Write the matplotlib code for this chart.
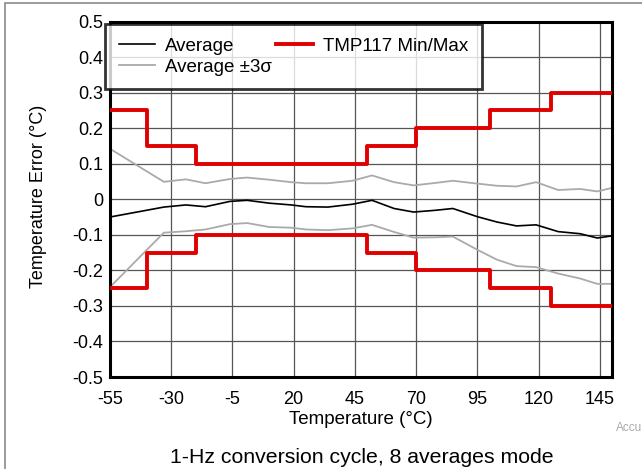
import matplotlib
matplotlib.use("Agg")
import matplotlib.pyplot as plt
from matplotlib.patches import Rectangle

plt.rcParams['font.family'] = ['Liberation Sans', 'DejaVu Sans']

# ---- data ----
temps = [-55, -33, -24, -16, -6, 1, 10, 19, 25, 34, 44, 52, 61, 69, 78, 85,
         95, 103, 111, 119, 128, 137, 144, 150]
avg = [-0.050, -0.022, -0.016, -0.021, -0.006, -0.003, -0.011, -0.016, -0.021,
       -0.022, -0.014, -0.003, -0.026, -0.036, -0.031, -0.026, -0.049, -0.064,
       -0.075, -0.072, -0.091, -0.097, -0.109, -0.103]
avg_plus3s = [0.142, 0.049, 0.056, 0.045, 0.057, 0.061, 0.055, 0.048, 0.045,
              0.045, 0.052, 0.067, 0.048, 0.039, 0.046, 0.052, 0.044, 0.038,
              0.036, 0.048, 0.026, 0.029, 0.022, 0.032]
avg_minus3s = [-0.247, -0.094, -0.090, -0.085, -0.070, -0.067, -0.078, -0.080,
               -0.085, -0.087, -0.082, -0.072, -0.092, -0.108, -0.107, -0.105,
               -0.142, -0.170, -0.188, -0.191, -0.209, -0.223, -0.238, -0.238]

limit_temps = [-55, -40, -20, 50, 70, 100, 125, 150]
limit_max = [0.25, 0.15, 0.10, 0.15, 0.20, 0.25, 0.30, 0.30]
limit_min = [-0.25, -0.15, -0.10, -0.15, -0.20, -0.25, -0.30, -0.30]

xticks = [-55, -30, -5, 20, 45, 70, 95, 120, 145]
yticks = [0.5, 0.4, 0.3, 0.2, 0.1, 0.0, -0.1, -0.2, -0.3, -0.4, -0.5]
ytick_labels = ['0.5', '0.4', '0.3', '0.2', '0.1', '0', '-0.1', '-0.2', '-0.3', '-0.4', '-0.5']

# ---- figure ----
W, H = 642, 469
fig = plt.figure(figsize=(W / 100, H / 100), dpi=100)

# outer gray frame (right/bottom clipped)
fig.patches.append(Rectangle((5 / W, -0.1), 1.2, 1 - 3 / H + 0.1,
                             transform=fig.transFigure, fill=False,
                             edgecolor='#8a8a8a', linewidth=1.2))

left, right, top, bottom = 110, 612, 21.5, 377
ax = fig.add_axes([left / W, 1 - bottom / H, (right - left) / W, (bottom - top) / H])

ax.set_xlim(-55, 150)
ax.set_ylim(-0.5, 0.5)
ax.set_xticks(xticks)
ax.set_xticklabels([str(t) for t in xticks])
ax.set_yticks(yticks)
ax.set_yticklabels(ytick_labels)
ax.tick_params(length=0, labelsize=13, colors='black')
ax.tick_params(axis='y', pad=5)
ax.tick_params(axis='x', pad=10)
ax.grid(True, color='#555555', linewidth=0.9)
ax.set_axisbelow(True)
for s in ax.spines.values():
    s.set_linewidth(2.2)
    s.set_color('black')

red = '#E00000'
gray = '#AAAAAA'
ax.plot(temps, avg, color='black', lw=1.2, label='Average', zorder=3)
ax.plot(temps, avg_plus3s, color=gray, lw=1.3, label='Average \u00b13\u03c3', zorder=2)
ax.plot(temps, avg_minus3s, color=gray, lw=1.3, zorder=2)
ax.plot(limit_temps, limit_max, color=red, lw=2.8, drawstyle='steps-post',
        label='TMP117 Min/Max', zorder=4)
ax.plot(limit_temps, limit_min, color=red, lw=2.8, drawstyle='steps-post', zorder=4)

leg = ax.legend(ncol=2, loc='upper left', bbox_to_anchor=(105 / W, 1 - 24 / H),
                bbox_transform=fig.transFigure, fontsize=13.5, frameon=True,
                fancybox=False, borderaxespad=0, handlelength=1.95,
                handletextpad=0.55, columnspacing=0.2, labelspacing=0.2,
                borderpad=0.72)
leg.get_frame().set_edgecolor('black')
leg.get_frame().set_linewidth(2.0)
leg.set_zorder(10)

ax.set_xlabel('Temperature (\u00b0C)', fontsize=13.5, labelpad=2)
ax.set_ylabel('Temperature Error (\u00b0C)', fontsize=13)
ax.yaxis.set_label_coords((47 - left) / (right - left), 0.508)

fig.text(362 / W, 1 - 457 / H, '1-Hz conversion cycle, 8 averages mode',
         ha='center', va='center', fontsize=15.3)
fig.text(1.0, 1 - 428 / H, 'Accu', ha='right', va='center', fontsize=8.5,
         color='#aaaaaa')

fig.savefig('out.png', dpi=100)
